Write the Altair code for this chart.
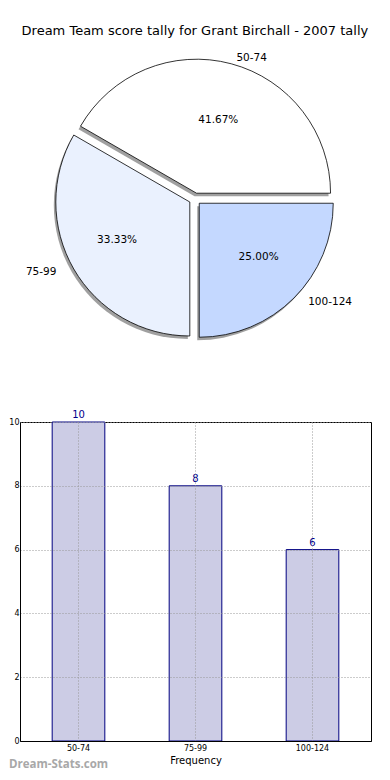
import altair as alt
import pandas as pd

# ---------------- data ----------------
categories = ["50-74", "75-99", "100-124"]
counts = [10, 8, 6]
slice_colors = ["#FFFFFF", "#EAF1FE", "#C4D8FF"]
y_ticks = [0, 2, 4, 6, 8, 10]
title_text = "Dream Team score tally for Grant Birchall - 2007 tally"
watermark = "Dream-Stats.com"

# ---------------- layout constants ----------------
PIE_W, PIE_H = 351, 345
CX, CY = 175, 146      # pie centre inside the pie view (px)
R = 134                # wedge radius
RX, RY = 140, 127      # label placement ellipse
EXPLODE = 6
BAR_W, BAR_H = 351, 319
FONT = "DejaVu Sans"

pie_df = pd.DataFrame({"band": categories, "count": counts, "order": list(range(len(categories)))})

pie_base = (
    alt.Chart(pie_df)
    .transform_joinaggregate(total="sum(count)")
    .transform_window(cum="sum(count)", sort=[alt.SortField("order")], frame=[None, 0])
    .transform_calculate(
        a_end="datum.cum / datum.total * 2 * PI",
        a_start="(datum.cum - datum.count) / datum.total * 2 * PI",
    )
    .transform_calculate(
        a_mid="(datum.a_start + datum.a_end) / 2",
        t0="PI / 2 - datum.a_end",
        t1="PI / 2 - datum.a_start",
        pct="format(datum.count / datum.total * 100, '.2f') + '%'",
    )
    .transform_calculate(
        px=f"{CX} + {EXPLODE} * cos(datum.a_mid)",
        py=f"{CY} - {EXPLODE} * sin(datum.a_mid)",
    )
    .transform_calculate(
        sx="datum.px - 2",
        sy="datum.py + 3",
        lx=f"datum.px + 1.1 * {RX} * cos(datum.a_mid)",
        ly=f"datum.py - 1.1 * {RY} * sin(datum.a_mid)",
        qx=f"datum.px + 0.6 * {RX} * cos(datum.a_mid)",
        qy=f"datum.py - 0.6 * {RY} * sin(datum.a_mid)",
        side="cos(datum.a_mid) >= 0 ? 'r' : 'l'",
    )
)

shadow = pie_base.mark_arc(radius=R, fill="#777777", fillOpacity=0.7).encode(
    theta=alt.Theta("t0:Q", scale=None, stack=False),
    theta2="t1:Q",
    x=alt.X("sx:Q", scale=None),
    y=alt.Y("sy:Q", scale=None),
)

wedges = pie_base.mark_arc(radius=R, stroke="#000000", strokeWidth=0.8).encode(
    theta=alt.Theta("t0:Q", scale=None, stack=False),
    theta2="t1:Q",
    x=alt.X("px:Q", scale=None),
    y=alt.Y("py:Q", scale=None),
    fill=alt.Fill("band:N", scale=alt.Scale(domain=categories, range=slice_colors), legend=None),
)

label_right = pie_base.transform_filter("datum.side == 'r'").mark_text(
    align="left", baseline="middle", font=FONT, fontSize=10.5, color="#000000"
).encode(x=alt.X("lx:Q", scale=None), y=alt.Y("ly:Q", scale=None), text="band:N")

label_left = pie_base.transform_filter("datum.side == 'l'").mark_text(
    align="right", baseline="middle", font=FONT, fontSize=10.5, color="#000000"
).encode(x=alt.X("lx:Q", scale=None), y=alt.Y("ly:Q", scale=None), text="band:N")

pct_labels = pie_base.mark_text(
    align="center", baseline="middle", font=FONT, fontSize=10.5, color="#000000"
).encode(x=alt.X("qx:Q", scale=None), y=alt.Y("qy:Q", scale=None), text="pct:N")

pie = alt.layer(shadow, wedges, label_right, label_left, pct_labels).properties(
    width=PIE_W, height=PIE_H, view=alt.ViewBackground(stroke="transparent")
)

# ---------------- bar chart ----------------
bar_df = pd.DataFrame({"band": categories, "count": counts})

x_enc = alt.X(
    "band:N",
    sort=categories,
    scale=alt.Scale(paddingInner=0.55, paddingOuter=0.275),
    axis=alt.Axis(
        title="Frequency", labelAngle=0, grid=True, gridDash=[1, 2], gridColor="#999999",
        ticks=False, bandPosition=0.5, labelFont=FONT, labelFontSize=8, labelColor="#000000",
        titleFont=FONT, titleFontSize=10, titleFontWeight="normal", titleColor="#000000",
        titlePadding=3, labelPadding=3, domainColor="#000000", zindex=1,
    ),
)
y_enc = alt.Y(
    "count:Q",
    scale=alt.Scale(domain=[0, 10], nice=False),
    axis=alt.Axis(
        title=None, values=y_ticks, grid=True, gridDash=[1, 2], gridColor="#999999",
        ticks=False, labelFont=FONT, labelFontSize=8, labelColor="#000000", labelPadding=1,
        domainColor="#000000", zindex=1,
    ),
)

bars = alt.Chart(bar_df).mark_bar(fill="#CCCCE5", stroke="#000080", strokeWidth=1).encode(
    x=x_enc, y=y_enc
)
bar_text = alt.Chart(bar_df).mark_text(
    baseline="bottom", dy=-2, font=FONT, fontSize=10, color="#00008B"
).encode(x=alt.X("band:N", sort=categories), y="count:Q", text="count:Q")

wm_df = pd.DataFrame({"t": [watermark]})
wm = alt.Chart(wm_df).mark_text(
    align="left", baseline="middle", font="Open Sans", fontWeight="bold", fontSize=11.5,
    color="#A8A8A8",
).encode(x=alt.value(-11), y=alt.value(BAR_H + 24), text="t:N")

bar_chart = alt.layer(bars, bar_text, wm).properties(
    width=BAR_W, height=BAR_H, view=alt.ViewBackground(stroke="#000000", strokeWidth=1)
)

chart = alt.vconcat(pie, bar_chart, spacing=10).properties(
    title=alt.TitleParams(
        title_text, anchor="middle", font=FONT, fontSize=13, fontWeight="normal",
        color="#000000", offset=15, dx=5,
    ),
    padding={"top": 16, "left": 0, "right": 0, "bottom": 0},
).configure_view(stroke="transparent")

chart.save("out.html", embed_options={"renderer": "svg", "actions": False})
